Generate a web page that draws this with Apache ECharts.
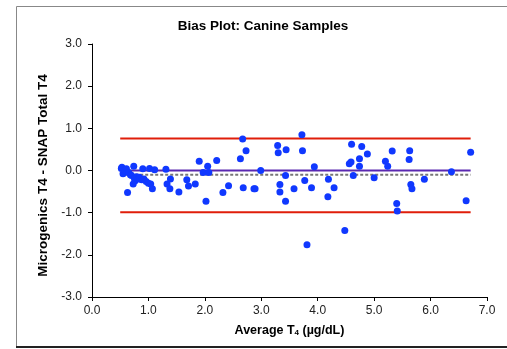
<!DOCTYPE html>
<html><head><meta charset="utf-8">
<script src="https://cdn.jsdelivr.net/npm/echarts@6/dist/echarts.min.js"></script>
<style>html,body{margin:0;padding:0;background:#fff}#c{width:507px;height:349px}</style>
</head><body><div id="c"></div>
<script>
const avgT4 = [0.52,0.53,0.55,0.58,0.61,0.63,0.65,0.68,0.70,0.73,0.74,0.75,0.76,0.79,0.82,0.84,0.88,0.90,0.92,0.96,1.00,1.02,1.04,1.07,1.11,1.31,1.33,1.39,1.38,1.54,1.68,1.71,1.83,1.90,1.97,2.02,2.05,2.07,2.21,2.32,2.42,2.63,2.67,2.68,2.73,2.87,2.89,2.99,3.29,3.30,3.33,3.33,3.43,3.43,3.44,3.58,3.72,3.73,3.77,3.81,3.89,3.94,4.18,4.19,4.29,4.48,4.56,4.59,4.60,4.63,4.74,4.74,4.78,4.88,5.00,5.20,5.24,5.32,5.40,5.41,5.62,5.63,5.65,5.67,5.89,6.37,6.63,6.71];
const diffT4 = [0.05,0.08,-0.08,0.02,0.04,-0.52,-0.05,-0.10,-0.12,-0.32,0.10,-0.18,-0.25,-0.15,-0.20,-0.16,-0.22,0.04,-0.20,-0.26,-0.30,0.05,-0.32,-0.43,0.02,0.03,-0.32,-0.20,-0.43,-0.51,-0.22,-0.37,-0.32,0.22,-0.05,-0.73,0.10,-0.05,0.24,-0.52,-0.36,0.28,0.75,-0.41,0.47,-0.43,-0.43,0.00,0.59,0.42,-0.33,-0.51,-0.12,-0.73,0.49,-0.43,0.85,0.47,-0.24,-1.76,-0.41,0.09,-0.62,-0.21,-0.41,-1.42,0.16,0.20,0.62,-0.12,0.28,0.10,0.57,0.39,-0.17,0.22,0.10,0.46,-0.78,-0.96,0.26,0.47,-0.33,-0.43,-0.21,-0.03,-0.72,0.43];
const lineRange = [0.5, 6.71];
const upperLimit = 0.76;
const lowerLimit = -0.99;
const zeroLine = 0.0;
const meanBias = -0.10;
const yTicks = [-3, -2, -1, 0, 1, 2, 3];
const xTicks = [0, 1, 2, 3, 4, 5, 6, 7];

const pts = avgT4.map((x, i) => [x, diffT4[i]]);
const seg = v => lineRange.map(x => [x, v]);
const chart = echarts.init(document.getElementById('c'), null, {renderer: 'canvas'});
const font = '"Liberation Sans", Arial, sans-serif';
chart.setOption({
  animation: false,
  backgroundColor: '#fff',
  title: {text: 'Bias Plot: Canine Samples', left: 258, top: 14, textAlign: 'center',
    textStyle: {fontFamily: font, fontSize: 13.5, fontWeight: 'bold', color: '#000'}},
  graphic: [
    {type: 'rect', shape: {x: 16.5, y: 6.5, width: 500, height: 340}, style: {fill: 'none', stroke: '#888', lineWidth: 1}, z: -1},
    {type: 'line', shape: {x1: 16, y1: 347, x2: 507, y2: 347}, style: {stroke: '#222', lineWidth: 2}, z: -1}
  ],
  grid: {left: 92, right: 20, top: 44, bottom: 52},
  xAxis: {type: 'value', min: 0, max: 7, interval: 1,
    axisLine: {show: true, onZero: false, lineStyle: {color: '#000', width: 1}},
    axisTick: {show: true, length: 4, lineStyle: {color: '#000'}},
    splitLine: {show: false},
    axisLabel: {fontFamily: font, fontSize: 12, color: '#222', margin: 8, formatter: v => v.toFixed(1)},
    name: '{a|Average T}{s|4}{a| (µg/dL)}', nameLocation: 'middle', nameGap: 27,
    nameTextStyle: {rich: {
      a: {fontFamily: font, fontSize: 12.5, fontWeight: 'bold', color: '#000'},
      s: {fontFamily: font, fontSize: 8, fontWeight: 'bold', color: '#000', verticalAlign: 'bottom', padding: [5, 0, 0, 0]}}}
  },
  yAxis: {type: 'value', min: -3, max: 3, interval: 1,
    axisLine: {show: true, onZero: false, lineStyle: {color: '#000', width: 1}},
    axisTick: {show: true, length: 4, lineStyle: {color: '#000'}},
    splitLine: {show: false},
    axisLabel: {fontFamily: font, fontSize: 12, color: '#222', margin: 10, formatter: v => v.toFixed(1)},
    name: 'Microgenics T4 - SNAP Total T4', nameLocation: 'middle', nameGap: 36,
    nameTextStyle: {fontFamily: font, fontSize: 13.5, fontWeight: 'bold', color: '#000', padding: [0, 10, 0, 0]}
  },
  series: [
    {type: 'line', data: seg(upperLimit), symbol: 'none', lineStyle: {color: '#e01e0a', width: 2}, z: 1},
    {type: 'line', data: seg(lowerLimit), symbol: 'none', lineStyle: {color: '#e01e0a', width: 2}, z: 1},
    {type: 'line', data: seg(zeroLine), symbol: 'none', lineStyle: {color: '#5a28b0', width: 2}, z: 1},
    {type: 'line', data: seg(meanBias), symbol: 'none', lineStyle: {color: '#777', width: 2, type: [3, 2]}, z: 1},
    {type: 'scatter', data: pts, symbol: 'circle', symbolSize: 7, itemStyle: {color: '#1038ff', opacity: 1}, z: 3}
  ]
});
</script></body></html>
